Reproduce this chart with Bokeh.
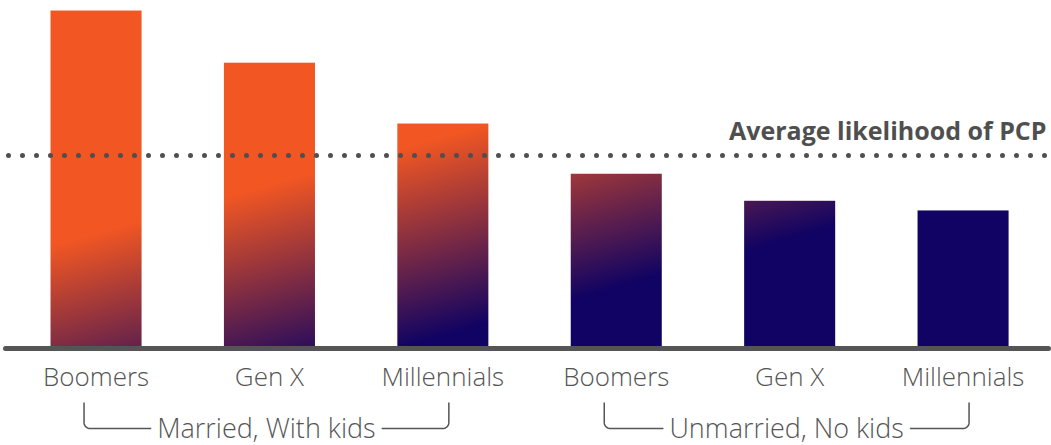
import numpy as np
from bokeh.plotting import figure
from bokeh.models import Range1d
from bokeh.core.properties import value
from bokeh.embed import file_html
from bokeh.resources import INLINE

# ---- data -------------------------------------------------------------
generations = ["Boomers", "Gen X", "Millennials", "Boomers", "Gen X", "Millennials"]
groups = ["Married, With kids"] * 3 + ["Unmarried, No kids"] * 3
likelihood = [35.0, 29.6, 23.3, 18.1, 15.3, 14.3]
average = 20.0
average_label = "Average likelihood of PCP"

# ---- styling ----------------------------------------------------------
W, H = 1051, 445
X0, X1 = -0.551, 5.510
Y0, Y1 = -10.04, 36.04
PX_X = (X1 - X0) / W          # data units per screen pixel
PX_Y = (Y1 - Y0) / H
BAR_W = 0.525
ORANGE = np.array([241, 86, 35], dtype=float)
NAVY = np.array([16, 3, 99], dtype=float)
# diagonal gradient: orange above v = G0 + GS*x, navy below that line minus GSPAN
G0, GS, GSPAN = 11.8, 5.0, 20.6
INK = "#4f4f4f"
LABEL_INK = "#555555"
LABEL_FONT = value("Open Sans Light, Open Sans")

p = figure(width=W, height=H, output_backend="svg", toolbar_location=None,
           x_range=Range1d(X0, X1), y_range=Range1d(Y0, Y1),
           min_border=0, outline_line_color=None)
p.axis.visible = False
p.grid.visible = False
p.background_fill_color = "white"
p.border_fill_color = "white"


def gradient_bar(xc, v):
    nx = int(round(BAR_W / PX_X))
    ny = max(2, int(round(v / PX_Y)))
    xs = xc - BAR_W / 2 + (np.arange(nx) + 0.5) * BAR_W / nx
    ys = (np.arange(ny) + 0.5) * v / ny
    X, Y = np.meshgrid(xs, ys)
    t = np.clip((G0 + GS * X - Y) / GSPAN, 0, 1)[..., None]
    rgb = ORANGE * (1 - t) + NAVY * t
    img = np.empty((ny, nx), dtype=np.uint32)
    view = img.view(dtype=np.uint8).reshape((ny, nx, 4))
    view[..., :3] = np.round(rgb).astype(np.uint8)
    view[..., 3] = 255
    return img


for i, v in enumerate(likelihood):
    p.image_rgba(image=[gradient_bar(i, v)], x=i - BAR_W / 2, y=0, dw=BAR_W, dh=v)

# baseline
p.line([X0 + 5 * PX_X, X1 - 3 * PX_X], [0, 0], line_color="#555555",
       line_width=5, line_cap="round")

# average reference line (dotted)
p.line([X0 + 8 * PX_X, X1 - 6 * PX_X], [average, average], line_color=INK,
       line_width=5, line_dash="0 14", line_cap="round")
p.text(x=[X1 - 5 * PX_X], y=[average + 25 * PX_Y], text=[average_label],
       text_font=value("Open Sans"), text_font_style="bold", text_font_size="25px",
       text_color=INK, text_align="right", text_baseline="alphabetic")

# generation labels
p.text(x=list(range(len(generations))), y=[-27 * PX_Y] * len(generations),
       text=generations, text_font=LABEL_FONT, text_font_size="26px",
       text_color=LABEL_INK, text_align="center", text_baseline="alphabetic")

# group brackets with labels
group_names = list(dict.fromkeys(groups))
r = 6
for g in group_names:
    idx = [i for i, gg in enumerate(groups) if gg == g]
    left, right = idx[0] - 12 * PX_X, idx[-1] + 6 * PX_X
    top, bot = -54 * PX_Y, -80 * PX_Y
    ang = np.linspace(0, np.pi / 2, 8)
    lx = list(left + r * PX_X * (1 - np.cos(ang)))
    ly = list(bot + r * PX_Y * (1 - np.sin(ang)))
    rx = list(right - r * PX_X * (1 - np.cos(ang[::-1])))
    ry = list(bot + r * PX_Y * (1 - np.sin(ang[::-1])))
    xs = [left] + lx + rx + [right]
    ys = [top] + ly + ry + [top]
    p.line(xs, ys, line_color=LABEL_INK, line_width=1.5)
    p.text(x=[(left + right) / 2], y=[-79 * PX_Y], text=[g],
           text_font=LABEL_FONT, text_font_size="27px", text_color=LABEL_INK,
           text_align="center", text_baseline="alphabetic",
           background_fill_color="white", padding=6)

open("out.html", "w").write(file_html(p, INLINE))
